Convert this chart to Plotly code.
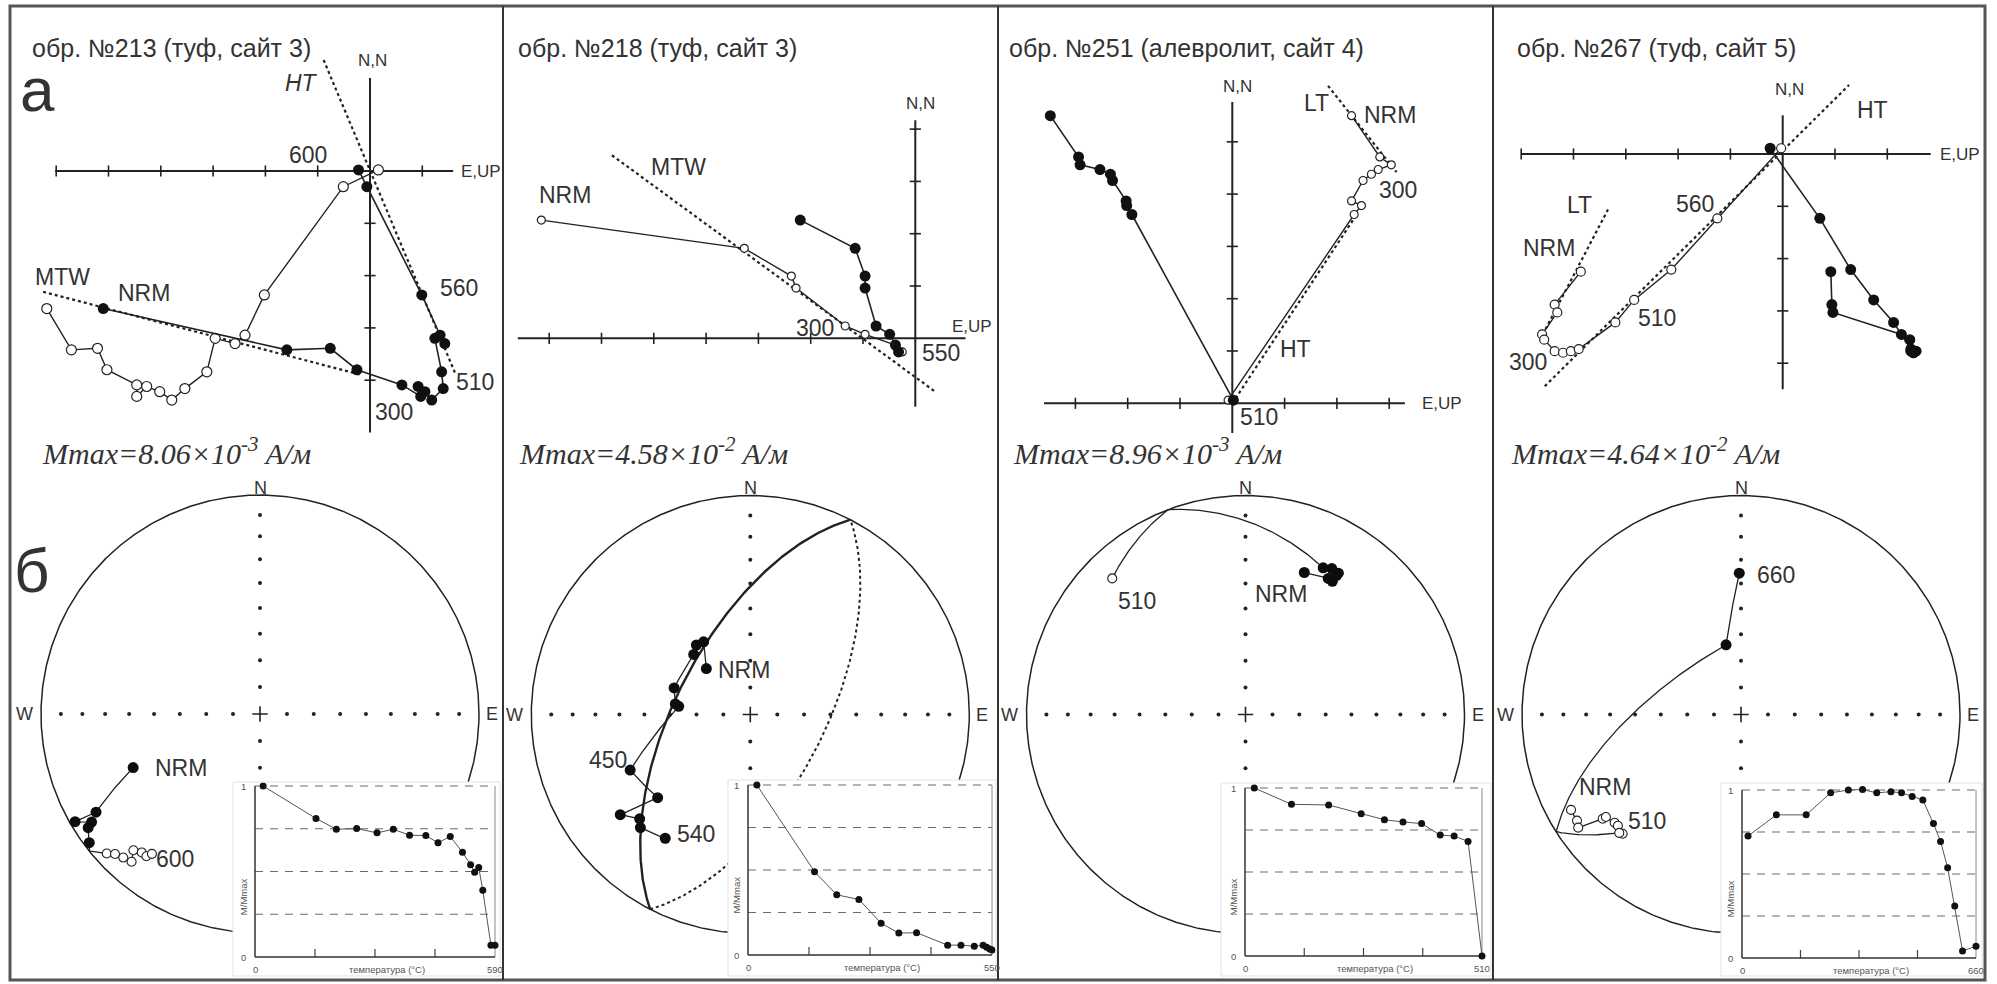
import numpy as np
import plotly.graph_objects as go

W, H = 1997, 984
INK = "#222222"
TXT = "#333333"
SANS = "Liberation Sans, Arial, sans-serif"
SERIF = "Liberation Serif, Times New Roman, serif"

# ---------------- Zijderveld data: N, E, UP components (axis tick units) ----------------
z1_N = [-2.63, -3.42, -3.39, -3.80, -4.09, -4.31, -4.12, -4.22, -4.38, -4.16, -3.84, -3.20, -3.30, -3.14, -2.37, -0.30, 0.02]
z1_E = [-5.10, -1.59, -0.76, -0.25, 0.61, 0.97, 0.92, 1.05, 1.18, 1.40, 1.37, 1.24, 1.43, 1.34, 0.99, -0.06, -0.22]
z1_UP = [-6.18, -5.71, -5.21, -5.03, -4.46, -4.46, -4.27, -4.02, -3.79, -3.54, -3.12, -2.96, -2.58, -2.39, -2.02, -0.51, 0.16]
z1_ht_x, z1_ht_y = [-1.02, 1.63], [2.44, -3.87]
z1_mtw_x, z1_mtw_y = [-6.25, -0.16], [-2.31, -3.90]

z2_N = [2.26, 1.72, 1.19, 0.96, 0.235, 0.076, -0.13, -0.26]
z2_E = [-2.20, -1.15, -0.96, -0.96, -0.75, -0.49, -0.38, -0.32]
z2_UP = [-7.15, -3.27, -2.37, -2.28, -1.34, -0.96, -0.38, -0.25]
z2_mtw_x, z2_mtw_y = [-5.8, 0.38], [3.5, -1.02]

z3_N = [5.50, 4.71, 4.56, 4.47, 4.38, 4.26, 3.87, 3.78, 3.61, 0.06]
z3_E = [-3.48, -2.94, -2.91, -2.53, -2.33, -2.29, -2.03, -2.02, -1.92, 0.02]
z3_UP = [2.28, 2.82, 3.04, 2.79, 2.66, 2.50, 2.28, 2.47, 2.33, -0.08]
z3_lt_x, z3_lt_y = [1.83, 3.14], [6.07, 4.42]
z3_ht_x, z3_ht_y = [0.0, 2.36], [0.0, 3.58]

z4_N = [-2.25, -2.88, -3.03, -3.45, -3.55, -3.77, -3.80, -3.77, -3.73, -3.22, -2.79, -2.21, -1.23, 0.11]
z4_E = [0.92, 0.94, 0.96, 2.27, 2.43, 2.55, 2.50, 2.45, 2.45, 2.12, 1.74, 1.30, 0.71, -0.24]
z4_UP = [-3.86, -4.36, -4.31, -4.60, -4.56, -4.36, -4.20, -4.05, -3.90, -3.20, -2.84, -2.13, -1.25, -0.03]
z4_ht_x, z4_ht_y = [-4.55, 1.27], [-4.44, 1.32]
z4_lt_x, z4_lt_y = [-3.34, -4.61], [-1.06, -3.49]

# ---------------- Stereonet data: declination / inclination (deg) ----------------
s1_dec = [247.1, 239.1, 239.8, 237.3, 236.5, 233.0, 227.7, 226.0, 223.6, 221.0, 222.9, 220.5, 218.6, 217.7]
s1_inc = [37.2, 13.8, 2.6, 9.5, 6.6, 2.7, -6.0, -8.8, -10.4, -11.6, -16.2, -18.0, -18.0, -20.4]

s2_dec = [316.3, 327.3, 322.2, 316.7, 289.2, 278.0, 276.5, 245.2, 228.1, 232.4, 226.7, 224.2, 214.5]
s2_inc = [66.3, 57.6, 57.0, 59.1, 59.8, 61.7, 63.1, 39.4, 42.6, 26.0, 31.2, 28.8, 32.0]
s2_gc_pole_dec, s2_gc_pole_inc = 117.2, 27.7

s3_dec = [22.5, 31.3, 33.1, 33.2, 33.3, 30.6, 27.9, 315.6]
s3_inc = [30.5, 28.1, 28.2, 25.0, 23.8, 23.6, 25.2, -14.1]

s4_dec = [240.7, 237.1, 235.2, 233.0, 232.8, 229.4, 227.9, 224.8, 225.8, 347.9, 359.3]
s4_inc = [-12.0, -11.8, -10.4, -22.0, -23.6, -25.0, -25.2, -24.3, -23.5, 63.4, 35.7]

# ---------------- Thermal demagnetization curves ----------------
d1_T = [20, 150, 200, 250, 300, 340, 380, 420, 450, 480, 510, 530, 540, 550, 560, 580, 590]
d1_M = [1.0, 0.81, 0.747, 0.751, 0.726, 0.747, 0.712, 0.71, 0.668, 0.705, 0.612, 0.54, 0.495, 0.523, 0.39, 0.069, 0.069]
d2_T = [20, 150, 200, 250, 300, 340, 380, 450, 480, 510, 530, 538, 545, 550]
d2_M = [1.0, 0.49, 0.354, 0.327, 0.187, 0.129, 0.131, 0.058, 0.058, 0.052, 0.058, 0.045, 0.035, 0.03]
d3_T = [20, 100, 180, 250, 300, 340, 380, 420, 450, 480, 510]
d3_M = [1.0, 0.903, 0.899, 0.847, 0.811, 0.798, 0.788, 0.72, 0.714, 0.682, 0.0]
d4_T = [17, 97, 181, 250, 300, 340, 380, 420, 450, 480, 510, 540, 560, 580, 600, 622, 660]
d4_M = [0.726, 0.852, 0.852, 0.983, 1.0, 1.003, 0.983, 0.99, 0.983, 0.962, 0.941, 0.80, 0.694, 0.537, 0.31, 0.042, 0.07]

titles = ["обр. №213 (туф, сайт 3)", "обр. №218 (туф, сайт 3)",
          "обр. №251 (алевролит, сайт 4)", "обр. №267 (туф, сайт 5)"]
mmax_text = ["8.06×10<sup>-3</sup>", "4.58×10<sup>-2</sup>", "8.96×10<sup>-3</sup>", "4.64×10<sup>-2</sup>"]
t_max = [590, 550, 510, 660]

# ---------------- page geometry (pixels) ----------------
UNIT = 52.3
zij_geom = [  # origin, plotting box, axis extents and tick positions
    dict(ox=370.0, oy=171.0, bx=(14, 500), h=(-6.02, 1.59), v=(-5.0, 1.78),
         ht=[-6, -5, -4, -3, -2, -1, 1], vt=[-1, -2, -3, -4]),
    dict(ox=915.3, oy=338.3, bx=(507, 995), h=(-7.6, 0.96), v=(-1.31, 4.17),
         ht=[-7, -6, -5, -4, -3, -2, -1], vt=[1, 2, 3, 4]),
    dict(ox=1232.3, oy=403.3, bx=(1002, 1490), h=(-3.6, 3.3), v=(-0.57, 5.76),
         ht=[-3, -2, -1, 1, 2, 3], vt=[1, 2, 3, 4, 5]),
    dict(ox=1782.7, oy=154.0, bx=(1497, 1982), h=(-5.0, 2.83), v=(-4.5, 0.74),
         ht=[-5, -4, -3, -2, -1, 1, 2], vt=[-1, -2, -3, -4]),
]
ZY0, ZY1 = 58, 442

R = 219.0
stereo_centers = [(260.0, 714.0), (750.3, 714.5), (1245.5, 714.5), (1741.0, 714.5)]

inset_geom = [  # left, right, top(M=1), bottom(M=0), white box x0,x1,y0,y1
    dict(l=255, r=495, t=786, b=957, box=(233, 499, 782, 976)),
    dict(l=748, r=992, t=785, b=955, box=(728, 995, 780, 976)),
    dict(l=1245, r=1482, t=788, b=956, box=(1221, 1490, 783, 976)),
    dict(l=1742, r=1976, t=790, b=958, box=(1721, 1981, 783, 976)),
]

zij_data = [
    dict(N=z1_N, E=z1_E, UP=z1_UP, fits=[(z1_ht_x, z1_ht_y), (z1_mtw_x, z1_mtw_y)], osize=10),
    dict(N=z2_N, E=z2_E, UP=z2_UP, fits=[(z2_mtw_x, z2_mtw_y)], osize=8),
    dict(N=z3_N, E=z3_E, UP=z3_UP, fits=[(z3_lt_x, z3_lt_y), (z3_ht_x, z3_ht_y)], osize=8),
    dict(N=z4_N, E=z4_E, UP=z4_UP, fits=[(z4_ht_x, z4_ht_y), (z4_lt_x, z4_lt_y)], osize=9),
]
stereo_data = [(s1_dec, s1_inc), (s2_dec, s2_inc), (s3_dec, s3_inc), (s4_dec, s4_inc)]
demag_data = [(d1_T, d1_M), (d2_T, d2_M), (d3_T, d3_M), (d4_T, d4_M)]


# ---------------- helpers ----------------
def dir_vec(dec, inc):
    d, i = np.radians(dec), np.radians(inc)
    return np.array([np.cos(i) * np.cos(d), np.cos(i) * np.sin(d), np.sin(i)])


def vec_dir(v):
    v = v / np.linalg.norm(v)
    return np.degrees(np.arctan2(v[1], v[0])), np.degrees(np.arcsin(np.clip(v[2], -1, 1)))


def eq_area(dec, inc):
    dec = np.radians(np.asarray(dec, float))
    inc = np.radians(np.abs(np.asarray(inc, float)))
    r = np.sqrt(2.0) * np.sin((np.pi / 2 - inc) / 2)
    return r * np.sin(dec), r * np.cos(dec)


def gc_path(decs, incs, step=0.5):
    """Great-circle segments joining successive directions, in projection."""
    xs, ys = [], []
    for k in range(len(decs) - 1):
        a, b = dir_vec(decs[k], incs[k]), dir_vec(decs[k + 1], incs[k + 1])
        ang = np.arccos(np.clip(np.dot(a, b), -1, 1))
        n = max(2, int(np.degrees(ang) / step) + 2)
        for t in np.linspace(0, 1, n):
            v = a if ang < 1e-9 else (np.sin((1 - t) * ang) * a + np.sin(t * ang) * b) / np.sin(ang)
            d, i = vec_dir(v)
            x, y = eq_area(d, i)
            xs.append(float(x))
            ys.append(float(y))
    return xs, ys


def plane_arcs(pole_dec, pole_inc):
    """Lower and upper hemisphere halves of the plane with the given pole."""
    p = dir_vec(pole_dec, pole_inc)
    s = np.cross(p, [0, 0, 1.0])
    s /= np.linalg.norm(s)
    d = np.cross(p, s)
    if d[2] < 0:
        d = -d
    out = []
    for th in (np.linspace(0, np.pi, 181), np.linspace(np.pi, 2 * np.pi, 181)):
        xs, ys = [], []
        for t in th:
            dd, ii = vec_dir(np.cos(t) * s + np.sin(t) * d)
            x, y = eq_area(dd, ii)
            xs.append(float(x))
            ys.append(float(y))
        out.append((xs, ys))
    return out


def fx(x):
    return x / W


def fy(y):
    return 1 - y / H


fig = go.Figure()
layout_axes = {}
annotations = []
shapes = []


def add_axes(n, x0, x1, y0, y1, xr, yr):
    sx = "" if n == 1 else str(n)
    layout_axes["xaxis" + sx] = dict(domain=[fx(x0), fx(x1)], range=xr, visible=False,
                                     anchor="y" + sx, fixedrange=True)
    layout_axes["yaxis" + sx] = dict(domain=[fy(y1), fy(y0)], range=yr, visible=False,
                                     anchor="x" + sx, fixedrange=True)
    return ("x" + sx, "y" + sx)


def txt(text, x, y, size=23, xa="left", ya="middle", color=TXT, family=SANS, **kw):
    annotations.append(dict(text=text, x=fx(x), y=fy(y), xref="paper", yref="paper",
                            xanchor=xa, yanchor=ya, showarrow=False,
                            font=dict(size=size, color=color, family=family), **kw))


for p in range(4):
    # ---------- Zijderveld diagram ----------
    g = zij_geom[p]
    zd = zij_data[p]
    xr = [(g["bx"][0] - g["ox"]) / UNIT, (g["bx"][1] - g["ox"]) / UNIT]
    yr = [(g["oy"] - ZY1) / UNIT, (g["oy"] - ZY0) / UNIT]
    xa, ya = add_axes(3 * p + 1, g["bx"][0], g["bx"][1], ZY0, ZY1, xr, yr)
    fig.add_trace(go.Scatter(x=[g["h"][0], g["h"][1], None, 0, 0], y=[0, 0, None, g["v"][0], g["v"][1]],
                             mode="lines", line=dict(color=INK, width=2), xaxis=xa, yaxis=ya))
    fig.add_trace(go.Scatter(x=g["ht"], y=[0] * len(g["ht"]), mode="markers",
                             marker=dict(symbol="line-ns", size=8, line=dict(color=INK, width=1.6)),
                             xaxis=xa, yaxis=ya))
    fig.add_trace(go.Scatter(x=[0] * len(g["vt"]), y=g["vt"], mode="markers",
                             marker=dict(symbol="line-ew", size=8, line=dict(color=INK, width=1.6)),
                             xaxis=xa, yaxis=ya))
    for fxs, fys in zd["fits"]:
        fig.add_trace(go.Scatter(x=fxs, y=fys, mode="lines", line=dict(color=INK, width=2.2, dash="dot"),
                                 xaxis=xa, yaxis=ya))
    fig.add_trace(go.Scatter(x=zd["UP"], y=zd["N"], mode="lines+markers",
                             line=dict(color=INK, width=1.4),
                             marker=dict(size=zd["osize"], color="white", line=dict(color=INK, width=1.2)),
                             xaxis=xa, yaxis=ya))
    fig.add_trace(go.Scatter(x=zd["E"], y=zd["N"], mode="lines+markers",
                             line=dict(color=INK, width=1.6),
                             marker=dict(size=11, color="#111111"),
                             xaxis=xa, yaxis=ya))

    # ---------- equal-area stereonet ----------
    cx, cy = stereo_centers[p]
    m = 8.0
    lim = (R + m) / R
    xa, ya = add_axes(3 * p + 2, cx - R - m, cx + R + m, cy - R - m, cy + R + m, [-lim, lim], [-lim, lim])
    th = np.linspace(0, 2 * np.pi, 721)
    fig.add_trace(go.Scatter(x=np.cos(th), y=np.sin(th), mode="lines", line=dict(color=INK, width=1.5),
                             xaxis=xa, yaxis=ya))
    net_inc = np.arange(10, 90, 10)
    gx, gy = [], []
    for az in (0, 90, 180, 270):
        x, y = eq_area([az] * len(net_inc), net_inc)
        gx += list(x)
        gy += list(y)
    fig.add_trace(go.Scatter(x=gx, y=gy, mode="markers", marker=dict(size=4, color=INK),
                             xaxis=xa, yaxis=ya))
    fig.add_trace(go.Scatter(x=[0], y=[0], mode="markers",
                             marker=dict(symbol="cross-thin", size=11, line=dict(color=INK, width=1.6)),
                             xaxis=xa, yaxis=ya))
    if p == 1:
        (lx, ly), (ux, uy) = plane_arcs(s2_gc_pole_dec, s2_gc_pole_inc)
        fig.add_trace(go.Scatter(x=ux, y=uy, mode="lines", line=dict(color=INK, width=2, dash="dot"),
                                 xaxis=xa, yaxis=ya))
        fig.add_trace(go.Scatter(x=lx, y=ly, mode="lines", line=dict(color=INK, width=2.4),
                                 xaxis=xa, yaxis=ya))
    dec, inc = stereo_data[p]
    px_, py_ = gc_path(dec, inc)
    fig.add_trace(go.Scatter(x=px_, y=py_, mode="lines", line=dict(color=INK, width=1.3),
                             xaxis=xa, yaxis=ya))
    mx, my = eq_area(dec, inc)
    low = [k for k in range(len(inc)) if inc[k] >= 0]
    up = [k for k in range(len(inc)) if inc[k] < 0]
    if up:
        fig.add_trace(go.Scatter(x=[float(mx[k]) for k in up], y=[float(my[k]) for k in up], mode="markers",
                                 marker=dict(size=9, color="white", opacity=1,
                                             line=dict(color=INK, width=1.1)),
                                 xaxis=xa, yaxis=ya))
    if low:
        fig.add_trace(go.Scatter(x=[float(mx[k]) for k in low], y=[float(my[k]) for k in low],
                                 mode="markers", marker=dict(size=11, color="#0d0d0d", opacity=1),
                                 xaxis=xa, yaxis=ya))
    txt("N", cx, 488, size=18, xa="center")
    txt("W", cx - R - 6, cy, size=18, xa="right")
    txt("E", cx + R + 5, cy, size=18, xa="left")

    # ---------- demagnetization inset ----------
    ig = inset_geom[p]
    T = t_max[p]
    bx0, bx1, by0, by1 = ig["box"]
    kx = T / (ig["r"] - ig["l"])
    ky = 1.0 / (ig["b"] - ig["t"])
    xr = [(bx0 - ig["l"]) * kx, (bx1 - ig["l"]) * kx]
    yr = [(ig["b"] - by1) * ky, (ig["b"] - by0) * ky]
    xa, ya = add_axes(3 * p + 3, bx0, bx1, by0, by1, xr, yr)
    grid_x, grid_y = [], []
    for gl in (0.25, 0.5, 0.75, 1.0):
        grid_x += [0, T, None]
        grid_y += [gl, gl, None]
    fig.add_trace(go.Scatter(x=grid_x, y=grid_y, mode="lines",
                             line=dict(color="#6a6a6a", width=1.2, dash="8px,7px"), xaxis=xa, yaxis=ya))
    fig.add_trace(go.Scatter(x=[T, T], y=[0, 1], mode="lines", line=dict(color="#888888", width=1),
                             xaxis=xa, yaxis=ya))
    tick_len = 8 * ky
    tx, ty = [], []
    for q in (0.25, 0.5, 0.75):
        tx += [q * T, q * T, None]
        ty += [0, tick_len, None]
    fig.add_trace(go.Scatter(x=tx, y=ty, mode="lines", line=dict(color="#444444", width=1.2),
                             xaxis=xa, yaxis=ya))
    fig.add_trace(go.Scatter(x=[0, 0, None, 0, T], y=[1, 0, None, 0, 0], mode="lines",
                             line=dict(color="#333333", width=1.5), xaxis=xa, yaxis=ya))
    dT, dM = demag_data[p]
    fig.add_trace(go.Scatter(x=dT, y=dM, mode="lines+markers", line=dict(color="#555555", width=1),
                             marker=dict(size=7, color="#111111"), xaxis=xa, yaxis=ya, cliponaxis=False))
    for t, xx, yy, extra in [
        ("1", -12 * kx, 1.0, {}),
        ("0", -12 * kx, 0.0, {}),
        ("0", 0, -12 * ky, {}),
        (str(T), T, -12 * ky, {}),
        ("температура (°C)", T * 0.55, -12 * ky, {}),
        ("M/Mmax", -12 * kx, 0.35, dict(textangle=-90)),
    ]:
        annotations.append(dict(text=t, x=xx, y=yy, xref=xa, yref=ya, xanchor="center", yanchor="middle",
                                showarrow=False, font=dict(size=9.5, color="#555555", family=SANS), **extra))
    shapes.append(dict(type="rect", xref="paper", yref="paper", x0=fx(bx0), x1=fx(bx1 + 1),
                       y0=fy(by1), y1=fy(by0), line=dict(color="#e2e2e2", width=1)))

# ---------------- titles and labels ----------------
title_x = [30, 516, 1007, 1515]
mmax_x = [40, 517, 1011, 1509]
for p in range(4):
    txt(titles[p], title_x[p], 48, size=25)
    txt("<i>Mmax=" + mmax_text[p] + " A/м</i>", mmax_x[p], 451, size=30, family=SERIF)

txt("а", 37, 90, size=62, xa="center")
txt("б", 32, 570, size=62, xa="center")

axis_lab = [((372, 60), (459, 171)), ((920, 103), (950, 327)), ((1237, 86), (1420, 403)), ((1789, 90), (1938, 154))]
for (nn, eu) in axis_lab:
    txt("N,N", nn[0], nn[1], size=17, xa="center")
    txt("E,UP", eu[0], eu[1], size=17)

labels = [
    ("600", 286.7, 155), ("<i>HT</i>", 283, 83.3), ("MTW", 33, 276.7), ("NRM", 116, 292.7),
    ("560", 438, 288.3), ("510", 454, 381.7), ("300", 373, 411.7),
    ("NRM", 537, 195), ("MTW", 648.7, 166.7), ("300", 793.7, 328.3), ("550", 920.3, 353.3),
    ("LT", 1301.7, 103.3), ("NRM", 1361.7, 115), ("300", 1376.7, 190), ("HT", 1278.3, 349.3),
    ("510", 1238.3, 416.7),
    ("HT", 1855, 110), ("LT", 1565, 205), ("NRM", 1521, 248.3), ("560", 1674.3, 204),
    ("510", 1636, 318.3), ("300", 1507, 361.7),
    ("NRM", 152.7, 767.5), ("600", 154, 859),
    ("NRM", 716.3, 670.3), ("450", 587, 760.4), ("540", 675.3, 833.5),
    ("510", 1115.7, 601.4), ("NRM", 1253.3, 594.3),
    ("660", 1755, 574.9), ("NRM", 1577, 786.9), ("510", 1626, 820.5),
]
for t, x, y in labels:
    txt(t, x, y, size=23)

# ---------------- frame ----------------
shapes.append(dict(type="rect", xref="paper", yref="paper", x0=fx(10), x1=fx(1985), y0=fy(980), y1=fy(6),
                   line=dict(color="#555555", width=3)))
for xd in (503, 998, 1493):
    shapes.append(dict(type="line", xref="paper", yref="paper", x0=fx(xd), x1=fx(xd), y0=fy(980), y1=fy(6),
                       line=dict(color="#333333", width=2)))

fig.update_layout(width=W, height=H, margin=dict(l=0, r=0, t=0, b=0),
                  paper_bgcolor="white", plot_bgcolor="white", showlegend=False,
                  annotations=annotations, shapes=shapes, **layout_axes)
fig.write_html("out.html")
